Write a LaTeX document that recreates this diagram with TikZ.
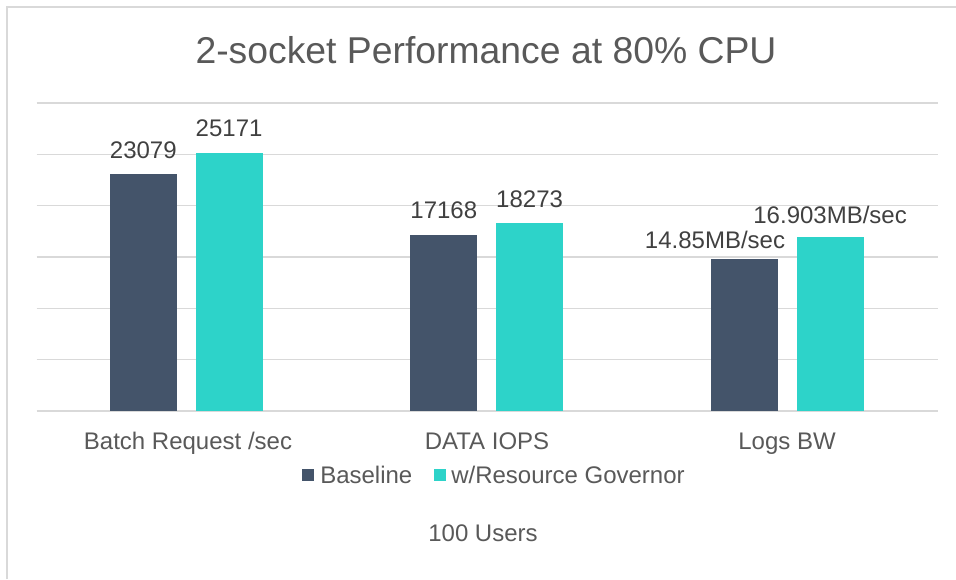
\documentclass[tikz,border=0pt]{standalone}
\usepackage{fontspec}
\setmainfont{Liberation Sans}
\definecolor{basecol}{HTML}{44546A}
\definecolor{rgcol}{HTML}{2DD3C9}
\definecolor{gridcol}{HTML}{D9D9D9}
\definecolor{txtcol}{HTML}{595959}
\definecolor{valcol}{HTML}{404040}
\tikzset{
  lbl/.style={font=\fontsize{18}{21}\selectfont, text=txtcol, inner sep=0pt, anchor=base},
  val/.style={lbl, text=valcol},
  keybox/.style={minimum size=9pt, inner sep=0pt, anchor=north west},
}
\begin{document}
\begin{tikzpicture}[x=0.75pt,y=-0.75pt]
\useasboundingbox (0,0) rectangle (956,579);
% chart frame
\draw[gridcol, line width=1.5pt] (7,579) -- (7,7) -- (956,7);
% grid
\foreach \k in {0,...,6}
  \draw[gridcol, line width=1.1pt] (36.7,{411-51.33*\k}) -- (937.7,{411-51.33*\k});
% bars (values in thousands)
\foreach \c/\b/\r/\n in {186.8/23.079/25.171/batch, 487.3/17.168/18.273/iops, 787.8/14.85/16.903/logs}{
  \fill[basecol] (\c-77,411) rectangle (\c-10,{411-\b*10.266});
  \fill[rgcol] (\c+8.8,411) rectangle (\c+75.8,{411-\r*10.266});
  \coordinate (\n-b) at (\c-43.5,{411-\b*10.266});
  \coordinate (\n-r) at (\c+42.3,{411-\r*10.266});
}
% values
\node[val] (v1) at ([yshift=12pt]batch-b) {23079};
\node[val] (v2) at ([yshift=12pt]batch-r) {25171};
\node[val] (v3) at ([yshift=12pt]iops-b) {17168};
\node[val] (v4) at ([yshift=12pt]iops-r) {18273};
\node[val] (v5) at (715,248.6) {14.85MB/sec};
\node[val] (v6) at ([yshift=10.5pt]logs-r) {16.903MB/sec};
% categories
\node[lbl] (c1) at (188,449.5) {Batch Request /sec};
\node[lbl] (c2) at (487,449.5) {DATA IOPS};
\node[lbl] (c3) at (787,449.5) {Logs BW};
% title
\node[lbl, font=\fontsize{28}{32}\selectfont] (title) at (486,63.5) {2-socket Performance at 80\% CPU};
% legend
\node[keybox, fill=basecol] (k1) at (302,469) {};
\node[lbl, anchor=base west] (l1) at (320,483.6) {Baseline};
\node[keybox, fill=rgcol] (k2) at (433.5,469) {};
\node[lbl, anchor=base west] (l2) at (451,483.6) {w/Resource Governor};
% axis title
\node[lbl] (users) at (483,541.6) {100 Users};
\end{tikzpicture}
\end{document}
